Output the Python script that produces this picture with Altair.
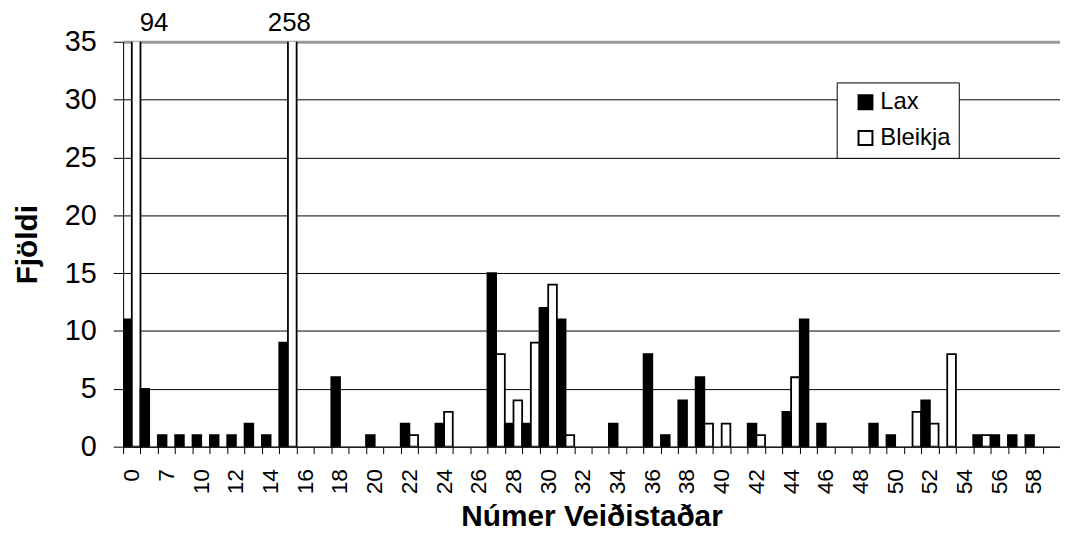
import altair as alt
import pandas as pd

FONT = "Liberation Sans"

# Categories (fishing spot numbers) as shown on the category axis
cats = ["0", "5", "7", "8", "10", "11", "12", "13", "14", "15",
        "16", "17", "18", "19", "20", "21", "22", "23", "24", "25",
        "26", "27", "28", "29", "30", "31", "32", "33", "34", "35",
        "36", "37", "38", "39", "40", "41", "42", "43", "44", "45",
        "46", "47", "48", "49", "50", "51", "52", "53", "54", "55",
        "56", "57", "58", "59"]

lax = [11, 5, 1, 1, 1, 1, 1, 2, 1, 9,
       0, 0, 6, 0, 1, 0, 2, 0, 2, 0,
       0, 15, 2, 2, 12, 11, 0, 0, 2, 0,
       8, 1, 4, 6, 0, 0, 2, 0, 3, 11,
       2, 0, 0, 2, 1, 0, 4, 0, 0, 1,
       1, 1, 1, 0]

bleikja = [94, 0, 0, 0, 0, 0, 0, 0, 0, 258,
           0, 0, 0, 0, 0, 0, 1, 0, 3, 0,
           0, 8, 4, 9, 14, 1, 0, 0, 0, 0,
           0, 0, 0, 2, 2, 0, 1, 0, 6, 0,
           0, 0, 0, 0, 0, 3, 2, 8, 0, 1,
           0, 0, 0, 0]

shown_labels = ["0", "7", "10", "12", "14", "16", "18", "20", "22", "24",
                "26", "28", "30", "32", "34", "36", "38", "40", "42", "44",
                "46", "48", "50", "52", "54", "56", "58"]

series = ["Lax", "Bleikja"]

rows = []
for c, l, b in zip(cats, lax, bleikja):
    rows.append({"cat": c, "series": "Lax", "value": l})
    rows.append({"cat": c, "series": "Bleikja", "value": b})
df = pd.DataFrame(rows)

label_list = "[" + ",".join("'" + s + "'" for s in shown_labels) + "]"

x_enc = alt.X(
    "cat:N",
    sort=cats,
    scale=alt.Scale(domain=cats, paddingInner=0, paddingOuter=0),
    axis=alt.Axis(
        title="Númer Veiðistaðar",
        labelAngle=270,
        labelAlign="right",
        labelBaseline="middle",
        labelOverlap=False,
        labelExpr="indexof(" + label_list + ", datum.value) >= 0 ? datum.label : ''",
        tickBand="extent",
        tickSize=7,
        tickColor="black",
        domainColor="black",
        labelFontSize=23,
        labelPadding=15,
        labelColor="black",
        grid=False,
        titleFontSize=30,
        titleFontWeight="bold",
        titlePadding=8,
        titleColor="black",
    ),
)

xoff_enc = alt.XOffset(
    "series:N",
    sort=series,
    scale=alt.Scale(domain=series, paddingInner=0, paddingOuter=0),
)

y_enc = alt.Y(
    "value:Q",
    scale=alt.Scale(domain=[0, 35], nice=False),
    axis=alt.Axis(
        title="Fjöldi",
        values=[0, 5, 10, 15, 20, 25, 30, 35],
        grid=True,
        gridColor={"condition": {"test": "datum.value === 35", "value": "#9a9a9a"}, "value": "black"},
        gridWidth={"condition": {"test": "datum.value === 35", "value": 3}, "value": 1},
        tickSize=10,
        tickColor="black",
        domainColor="black",
        labelFontSize=29,
        labelPadding=17,
        labelColor="black",
        titleFontSize=30,
        titleFontWeight="bold",
        titlePadding=22,
        titleColor="black",
    ),
)

base = alt.Chart(df)

bars = base.mark_bar(clip=True, stroke="black", strokeWidth=1.8).encode(
    x=x_enc,
    xOffset=xoff_enc,
    y=y_enc,
    fill=alt.Fill(
        "series:N",
        sort=series,
        scale=alt.Scale(domain=series, range=["black", "white"]),
        legend=alt.Legend(
            title=None,
            orient="none",
            legendX=719,
            legendY=41,
            fillColor="white",
            strokeColor="black",
            padding=8,
            symbolType="square",
            symbolSize=196,
            symbolStrokeColor="black",
            symbolStrokeWidth=2,
            symbolOffset=9,
            labelOffset=3,
            labelFontSize=24,
            labelFont=FONT,
            labelColor="black",
            rowPadding=12,
        ),
    ),
).transform_filter("datum.value > 0")

labels_a = base.mark_text(
    fontSize=26, font=FONT, baseline="alphabetic", dy=-11, dx=18, color="black"
).encode(
    x=alt.X("cat:N", sort=cats),
    xOffset=alt.XOffset("series:N", sort=series),
    y=alt.datum(35),
    text=alt.Text("value:Q"),
).transform_filter("datum.value > 35 && datum.value < 100")

labels_b = base.mark_text(
    fontSize=26, font=FONT, baseline="alphabetic", dy=-11, dx=-3, color="black"
).encode(
    x=alt.X("cat:N", sort=cats),
    xOffset=alt.XOffset("series:N", sort=series),
    y=alt.datum(35),
    text=alt.Text("value:Q"),
).transform_filter("datum.value >= 100")

chart = (
    alt.layer(bars, labels_a, labels_b)
    .properties(
        width=944,
        height=408,
        autosize=alt.AutoSizeParams(type="none"),
        padding={"left": 116, "top": 32, "right": 0, "bottom": 85},
    )
    .configure(font=FONT)
    .configure_view(stroke=None)
    .configure_axis(labelFont=FONT, titleFont=FONT)
)

chart.save("out.html", embed_options={"renderer": "svg", "actions": False})
